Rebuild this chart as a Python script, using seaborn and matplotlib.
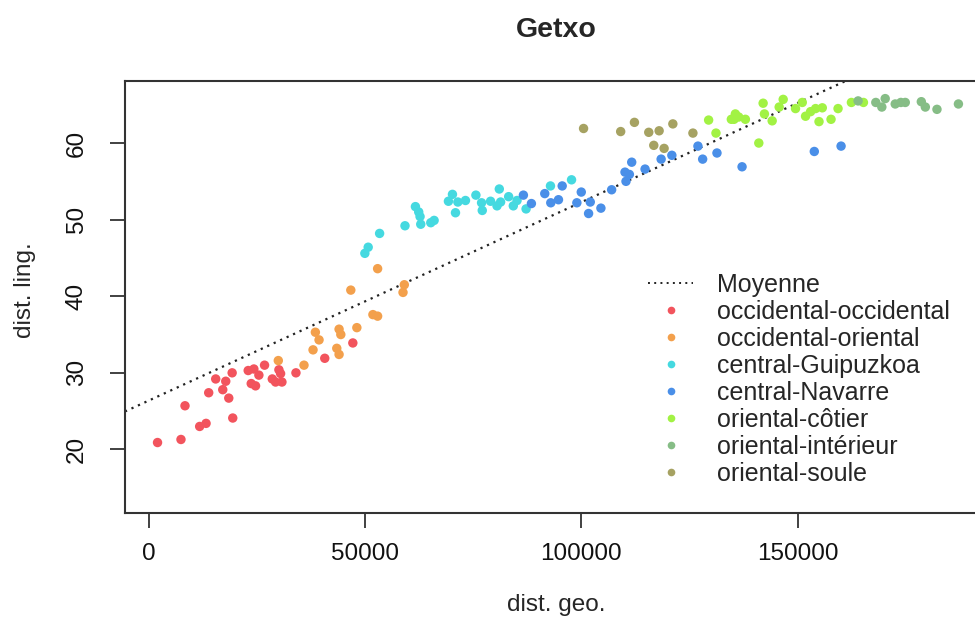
import pandas as pd
import numpy as np
import matplotlib.pyplot as plt
import seaborn as sns
from matplotlib.lines import Line2D

# groups and colours
groups = ['occidental-occidental', 'occidental-oriental', 'central-Guipuzkoa',
          'central-Navarre', 'oriental-côtier', 'oriental-intérieur', 'oriental-soule']
colors = ['#f2545d', '#f3a04c', '#45d9e0', '#4a8fe8', '#a2f244', '#86bd86', '#a6a262']

# points (dist. geo., dist. ling.)
occ_occ_x = [2020, 7440, 11760, 13240, 8370, 19410, 13850, 15470, 17100, 17790, 18490, 19270, 22980,
             24290, 25450, 23680, 24680, 26760, 28550, 29310, 30080, 30470, 30780, 34020, 40680, 47170]
occ_occ_y = [20.9, 21.3, 23.0, 23.4, 25.7, 24.1, 27.4, 29.2, 27.8, 28.9, 26.7, 30.0, 30.3,
             30.5, 29.7, 28.6, 28.3, 31.0, 29.2, 28.8, 30.4, 29.9, 28.8, 30.0, 31.9, 33.9]

occ_or_x = [29940, 35880, 37970, 39360, 38510, 43460, 43990, 43990, 44390, 48100, 51810, 52900,
            46700, 52900, 59070, 58770]
occ_or_y = [31.6, 31.0, 33.0, 34.3, 35.3, 33.2, 32.4, 35.7, 35.0, 35.9, 37.6, 37.4,
            40.8, 43.6, 41.5, 40.5]

gui_x = [49950, 50720, 53360, 59230, 62870, 65190, 65960, 61640, 62400, 62710, 70200, 69270, 70900,
         71450, 73210, 75620, 76930, 77090, 79010, 81030, 80500, 81330, 83190, 84270, 85130, 87220,
         92860, 97730]
gui_y = [45.6, 46.4, 48.2, 49.2, 49.4, 49.6, 49.9, 51.7, 51.0, 50.4, 53.3, 52.4, 50.9,
         52.3, 52.5, 53.2, 52.2, 51.2, 52.4, 54.0, 51.8, 52.3, 53.0, 51.8, 52.5, 51.4,
         54.4, 55.2]

nav_x = [86600, 88450, 91540, 92930, 94710, 95570, 99980, 98960, 102060, 101670, 104520, 107000,
         110090, 111100, 110320, 111640, 114730, 118440, 120920, 126950, 128040, 131350, 137150,
         153850, 160040]
nav_y = [53.2, 52.1, 53.4, 52.2, 52.6, 54.4, 53.6, 52.2, 52.3, 50.8, 51.5, 53.9,
         56.2, 55.9, 55.0, 57.5, 56.6, 57.9, 58.4, 59.6, 57.9, 58.7, 56.9,
         58.9, 59.6]

cot_x = [129420, 131120, 134670, 135300, 135600, 136380, 137920, 141020, 142020, 142320, 144110,
         145730, 146660, 149510, 151070, 151830, 152990, 154150, 155700, 154940, 157720, 159340,
         162430, 165210]
cot_y = [63.0, 61.3, 63.1, 63.1, 63.8, 63.4, 63.1, 60.0, 65.2, 63.8, 62.9,
         64.7, 65.7, 64.5, 65.3, 63.5, 64.1, 64.5, 64.6, 62.8, 63.1, 64.5,
         65.3, 65.3]

int_x = [163980, 168070, 169460, 170240, 172560, 173860, 174880, 178590, 179520, 182210, 187170]
int_y = [65.5, 65.3, 64.7, 65.8, 65.1, 65.3, 65.3, 65.4, 64.7, 64.4, 65.1]

soule_x = [100510, 109090, 112270, 115580, 117980, 116740, 119130, 121150, 125790]
soule_y = [61.9, 61.5, 62.7, 61.4, 61.6, 59.7, 59.3, 62.5, 61.3]

# dotted "Moyenne" line
line_intercept = 26.38
line_slope = 2.59e-4

xs = [occ_occ_x, occ_or_x, gui_x, nav_x, cot_x, int_x, soule_x]
ys = [occ_occ_y, occ_or_y, gui_y, nav_y, cot_y, int_y, soule_y]
df = pd.concat([pd.DataFrame({'geo': x, 'ling': y, 'groupe': g}) for x, y, g in zip(xs, ys, groups)])

sns.set_style('white')
plt.rcParams['font.family'] = ['Liberation Sans', 'DejaVu Sans']

W, H = 975, 623
fig = plt.figure(figsize=(W / 100, H / 100), dpi=100)
ax = fig.add_axes([125 / W, 1 - 513 / H, (991 - 125) / W, (513 - 81) / H])

palette = dict(zip(groups, colors))
sns.scatterplot(data=df, x='geo', y='ling', hue='groupe', hue_order=groups, palette=palette,
                s=46, linewidth=0, legend=False, ax=ax, zorder=3)
ax.axline((0, line_intercept), slope=line_slope, color='#222222', linestyle=(0, (1, 2.2)),
          linewidth=1.6, zorder=2)

ax.set_xlim(-5500, 194700)
ax.set_ylim(11.7, 68.1)
ax.set_xticks([0, 50000, 100000, 150000])
ax.set_yticks([20, 30, 40, 50, 60])
ax.set_xlabel('')
ax.set_ylabel('')
for s in ax.spines.values():
    s.set_color('#333333')
    s.set_linewidth(1.5)
ax.tick_params(axis='both', direction='out', length=10.8, width=1.3, color='#333333',
               labelsize=17.5, labelcolor='#111111')
ax.tick_params(axis='x', pad=10.5, bottom=True)
ax.tick_params(axis='y', pad=16, left=True, labelrotation=90)
for lab in ax.get_yticklabels():
    lab.set_va('center')

fig.text(556 / W, 1 - 30 / H, 'Getxo', ha='center', va='center', fontsize=20.5, fontweight='bold')
fig.text(556 / W, 1 - 605 / H, 'dist. geo.', ha='center', va='center', fontsize=17.5)
fig.text(25 / W, 1 - 290 / H, 'dist. ling.', ha='center', va='center', fontsize=17.5, rotation=90)

handles = [Line2D([], [], color='#222222', linestyle=(0, (1, 2.2)), linewidth=1.4)]
handles += [Line2D([], [], color=c, marker='o', linestyle='', markersize=5.5, markeredgewidth=0)
            for c in colors]
ax.legend(handles, ['Moyenne'] + groups, loc='upper left', bbox_to_anchor=(648 / W, 1 - 273 / H),
          bbox_transform=fig.transFigure, frameon=False, fontsize=18, borderpad=0,
          borderaxespad=0, handlelength=1.8, handletextpad=0.95, labelspacing=0.12)

fig.savefig('out.png', dpi=100)
